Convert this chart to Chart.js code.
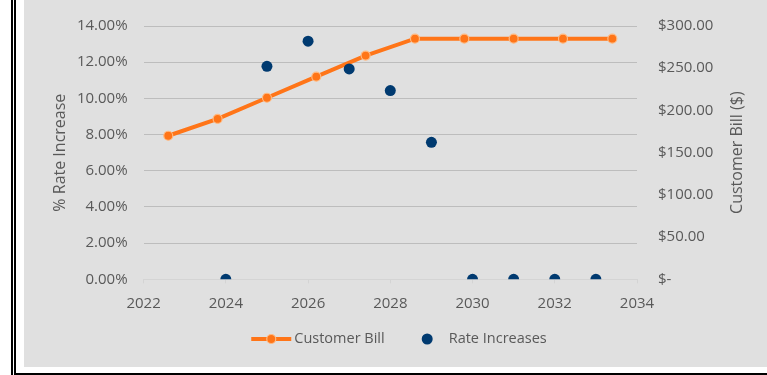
<!DOCTYPE html>
<html>
<head>
<meta charset="utf-8">
<script src="https://cdn.jsdelivr.net/npm/chart.js@4.4.1/dist/chart.umd.min.js"></script>
<style>
    html, body { margin: 0; padding: 0; background: #fff; }
    body { width: 767px; height: 375px; position: relative; overflow: hidden; }
    .ln { position: absolute; background: #000; }
    #box { position: absolute; left: 24px; top: 0; width: 743px; height: 367px; background: #e0e0e0; }
</style>
</head>
<body>
<div class="ln" style="left:11px;top:0;width:2px;height:375px;"></div>
<div class="ln" style="left:14px;top:0;width:2px;height:375px;"></div>
<div class="ln" style="left:14px;top:373px;width:753px;height:2px;"></div>
<div id="box"><canvas id="myChart"></canvas></div>
<script>
// Customer Bill (secondary axes, category positions)
var billLabels = ['2024', '2025', '2026', '2027', '2028', '2029', '2030', '2031', '2032', '2033'];
var customerBill = [170, 190, 215, 240, 265, 285, 285, 285, 285, 285];

// Rate Increases (primary axes, year positions)
var rateYears = [2024, 2025, 2026, 2027, 2028, 2029, 2030, 2031, 2032, 2033];
var rateIncreases = [0, 0.1177, 0.1316, 0.1163, 0.1043, 0.0757, 0, 0, 0, 0];

var leftTitle = '% Rate Increase';
var rightTitle = 'Customer Bill ($)';

var ORANGE = '#ff7518';
var ORANGE_EDGE = '#ffb980';
var BLUE = '#003a70';
var TEXT = '#595959';
var FONT = '"Open Sans"';

var _myChart = null;

// tiêu đề trục + chú thích, vẽ tay cho giống Excel
var extraText = {
    id: 'extraText',
    afterDraw: function (chart) {
        var ctx = chart.ctx;
        var area = chart.chartArea;
        var midY = (area.top + area.bottom) / 2;
        ctx.save();
        ctx.fillStyle = TEXT;
        ctx.font = '16px ' + FONT;
        ctx.textAlign = 'center';
        ctx.textBaseline = 'middle';

        ctx.save();
        ctx.translate(36, midY);
        ctx.rotate(-Math.PI / 2);
        ctx.fillText(leftTitle, 0, 0);
        ctx.restore();

        ctx.save();
        ctx.translate(713, midY);
        ctx.rotate(-Math.PI / 2);
        ctx.fillText(rightTitle, 0, 0);
        ctx.restore();

        // legend
        ctx.font = '14.5px ' + FONT;
        var name1 = chart.data.datasets[0].label;
        var name2 = chart.data.datasets[1].label;
        var w1 = ctx.measureText(name1).width;
        var w2 = ctx.measureText(name2).width;
        var total = 40 + 3 + w1 + 37 + 11 + 16 + w2;
        var x = 375 - total / 2;
        var y = 339;

        ctx.strokeStyle = ORANGE;
        ctx.lineWidth = 4;
        ctx.beginPath();
        ctx.moveTo(x, y);
        ctx.lineTo(x + 40, y);
        ctx.stroke();
        ctx.beginPath();
        ctx.arc(x + 20, y, 4.5, 0, Math.PI * 2);
        ctx.fillStyle = ORANGE;
        ctx.fill();
        ctx.lineWidth = 1.2;
        ctx.strokeStyle = ORANGE_EDGE;
        ctx.stroke();

        ctx.fillStyle = TEXT;
        ctx.textAlign = 'left';
        ctx.fillText(name1, x + 43, y);

        var cx = x + 43 + w1 + 37 + 5.5;
        ctx.beginPath();
        ctx.arc(cx, y, 5.5, 0, Math.PI * 2);
        ctx.fillStyle = BLUE;
        ctx.fill();

        ctx.fillStyle = TEXT;
        ctx.fillText(name2, cx + 5.5 + 16, y);
        ctx.restore();
    }
};

function buildChart() {
    var rateData = rateYears.map((yr, i) => ({ x: yr, y: rateIncreases[i] }));

    var data = {
        datasets: [
            {
                type: 'line',
                label: 'Customer Bill',
                data: customerBill,
                xAxisID: 'xCat',
                yAxisID: 'yBill',
                borderColor: ORANGE,
                borderWidth: 4,
                backgroundColor: ORANGE,
                pointRadius: 4.5,
                pointBorderColor: ORANGE_EDGE,
                pointBorderWidth: 1.2,
                pointBackgroundColor: ORANGE,
                tension: 0,
                order: 2,
            },
            {
                type: 'scatter',
                label: 'Rate Increases',
                data: rateData,
                xAxisID: 'x',
                yAxisID: 'y',
                backgroundColor: BLUE,
                borderColor: BLUE,
                pointRadius: 5.5,
                pointBorderWidth: 0,
                order: 1,
            },
        ],
    };

    var tickFont = { family: FONT, size: 15 };

    var options = {
        responsive: true,
        maintainAspectRatio: false,
        animation: false,
        layout: { padding: { top: 26 } },
        plugins: {
            legend: { display: false },
            tooltip: { enabled: false },
        },
        scales: {
            x: {
                type: 'linear',
                position: 'bottom',
                min: 2022,
                max: 2034,
                grid: {
                    drawOnChartArea: false,
                    drawTicks: true,
                    tickLength: 4,
                    color: '#d4d4d4',
                },
                border: { display: true, color: '#d4d4d4' },
                ticks: {
                    stepSize: 2,
                    padding: 11,
                    color: TEXT,
                    font: tickFont,
                    callback: function (v) { return String(v); },
                    maxRotation: 0,
                },
                afterFit: function (scale) { scale.height = 87.7; },
            },
            xCat: {
                type: 'category',
                labels: billLabels,
                offset: true,
                display: false,
            },
            y: {
                position: 'left',
                min: 0,
                max: 0.14,
                grid: {
                    drawTicks: false,
                    color: function (c) { return c.tick && c.tick.value === 0 ? '#d4d4d4' : '#bdbdbd'; },
                },
                border: { display: false },
                ticks: {
                    stepSize: 0.02,
                    padding: 16,
                    color: TEXT,
                    font: tickFont,
                    callback: function (v) { return (v * 100).toFixed(2) + '%'; },
                },
                afterFit: function (scale) {
                    scale.width = 119.6;
                    scale.paddingTop = 0;
                    scale.paddingBottom = 0;
                },
            },
            yBill: {
                position: 'right',
                min: 0,
                max: 300,
                grid: { drawOnChartArea: false, drawTicks: false },
                border: { display: false },
                ticks: {
                    stepSize: 50,
                    padding: 21,
                    color: TEXT,
                    font: tickFont,
                    callback: function (v) { return v === 0 ? '$-' : '$' + v.toFixed(2); },
                },
                afterFit: function (scale) {
                    scale.width = 130;
                    scale.paddingTop = 0;
                    scale.paddingBottom = 0;
                },
            },
        },
    };

    var ctx = document.getElementById('myChart').getContext('2d');
    _myChart = new Chart(ctx, {
        data: data,
        options: options,
        plugins: [extraText],
    });
}

buildChart();
</script>
</body>
</html>
